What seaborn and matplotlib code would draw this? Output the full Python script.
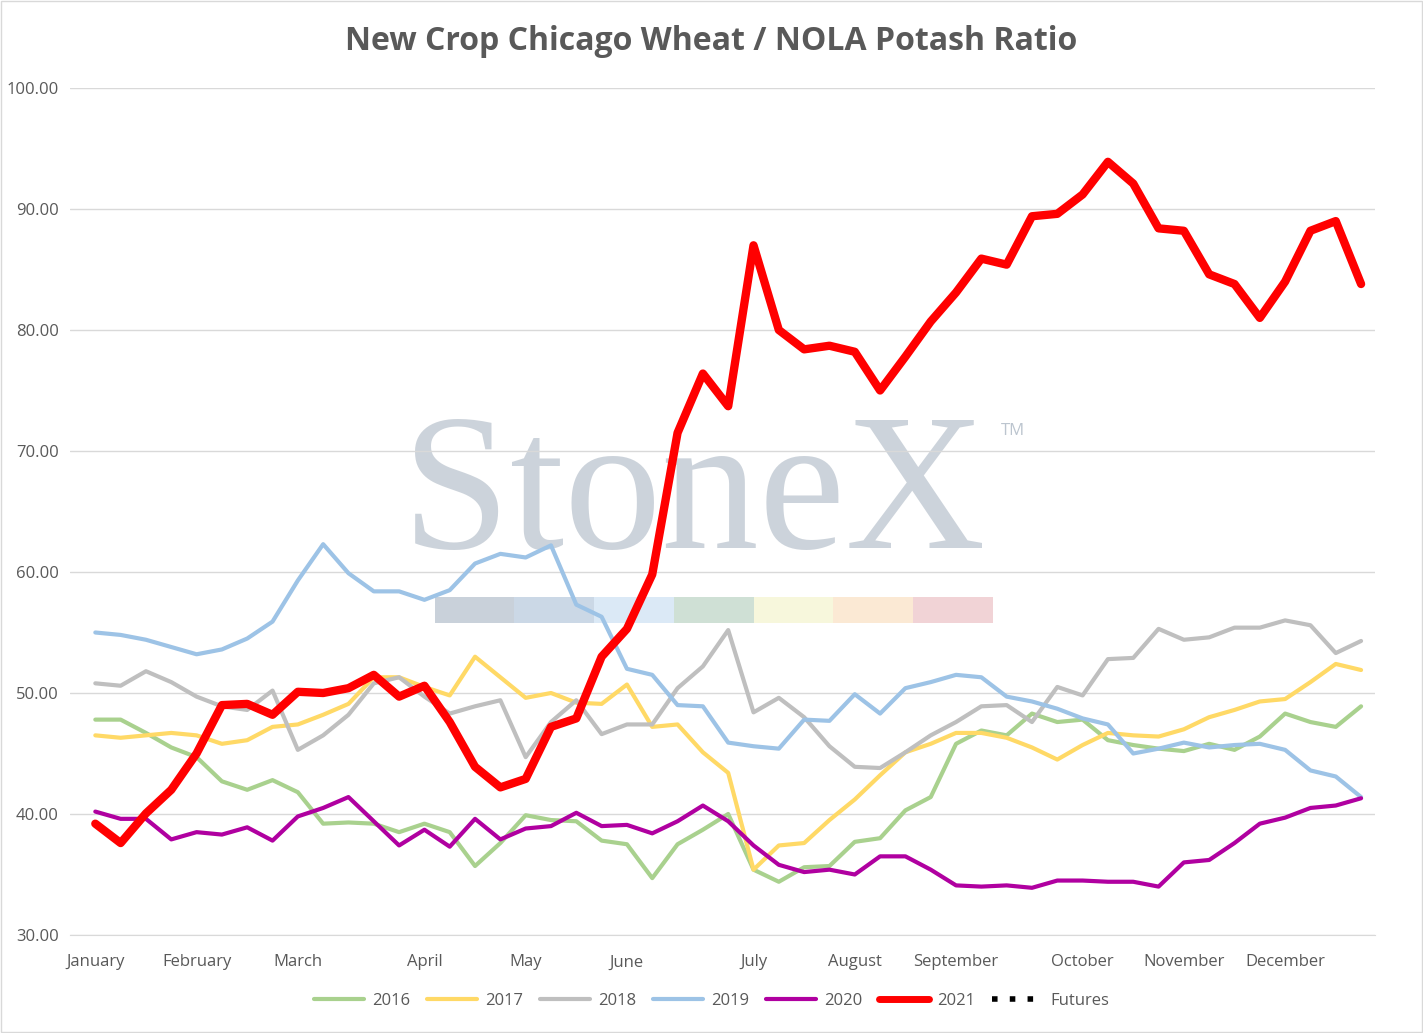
import matplotlib
matplotlib.use("Agg")
import matplotlib.pyplot as plt
import matplotlib.lines as mlines
import pandas as pd
import seaborn as sns

# weekly ratio values, 51 points per season
y2016 = [47.8, 47.8, 46.7, 45.5, 44.7, 42.7, 42.0, 42.8, 41.8, 39.2, 39.3, 39.2, 38.5, 39.2, 38.5, 35.7, 37.6,
         39.9, 39.5, 39.4, 37.8, 37.5, 34.7, 37.5, 38.7, 40.0, 35.4, 34.4, 35.6, 35.7, 37.7, 38.0, 40.3, 41.4,
         45.8, 46.9, 46.5, 48.3, 47.6, 47.8, 46.1, 45.7, 45.4, 45.2, 45.8, 45.3, 46.4, 48.3, 47.6, 47.2, 48.9]
y2017 = [46.5, 46.3, 46.5, 46.7, 46.5, 45.8, 46.1, 47.2, 47.4, 48.2, 49.1, 51.3, 51.3, 50.5, 49.8, 53.0, 51.3,
         49.6, 50.0, 49.2, 49.1, 50.7, 47.2, 47.4, 45.1, 43.4, 35.4, 37.4, 37.6, 39.5, 41.2, 43.2, 45.1, 45.8,
         46.7, 46.7, 46.3, 45.5, 44.5, 45.7, 46.7, 46.5, 46.4, 47.0, 48.0, 48.6, 49.3, 49.5, 50.9, 52.4, 51.9]
y2018 = [50.8, 50.6, 51.8, 50.9, 49.7, 48.9, 48.6, 50.2, 45.3, 46.5, 48.2, 50.8, 51.3, 49.7, 48.3, 48.9, 49.4,
         44.7, 47.6, 49.4, 46.6, 47.4, 47.4, 50.4, 52.2, 55.2, 48.4, 49.6, 48.0, 45.6, 43.9, 43.8, 45.1, 46.5,
         47.6, 48.9, 49.0, 47.6, 50.5, 49.8, 52.8, 52.9, 55.3, 54.4, 54.6, 55.4, 55.4, 56.0, 55.6, 53.3, 54.3]
y2019 = [55.0, 54.8, 54.4, 53.8, 53.2, 53.6, 54.5, 55.9, 59.3, 62.3, 59.9, 58.4, 58.4, 57.7, 58.5, 60.7, 61.5,
         61.2, 62.2, 57.3, 56.3, 52.0, 51.5, 49.0, 48.9, 45.9, 45.6, 45.4, 47.8, 47.7, 49.9, 48.3, 50.4, 50.9,
         51.5, 51.3, 49.7, 49.3, 48.7, 47.9, 47.4, 45.0, 45.4, 45.9, 45.5, 45.7, 45.8, 45.3, 43.6, 43.1, 41.4]
y2020 = [40.2, 39.6, 39.6, 37.9, 38.5, 38.3, 38.9, 37.8, 39.8, 40.5, 41.4, 39.4, 37.4, 38.7, 37.3, 39.6, 37.9,
         38.8, 39.0, 40.1, 39.0, 39.1, 38.4, 39.4, 40.7, 39.4, 37.4, 35.8, 35.2, 35.4, 35.0, 36.5, 36.5, 35.4,
         34.1, 34.0, 34.1, 33.9, 34.5, 34.5, 34.4, 34.4, 34.0, 36.0, 36.2, 37.6, 39.2, 39.7, 40.5, 40.7, 41.3]
y2021 = [39.2, 37.6, 40.05, 42.0, 45.0, 49.0, 49.1, 48.2, 50.1, 50.0, 50.4, 51.5, 49.7, 50.6, 47.6, 43.9, 42.2,
         42.9, 47.2, 47.9, 53.0, 55.3, 59.8, 71.5, 76.4, 73.7, 87.0, 80.0, 78.4, 78.7, 78.2, 75.0, 77.8, 80.7,
         83.1, 85.9, 85.4, 89.4, 89.6, 91.2, 93.9, 92.1, 88.4, 88.2, 84.6, 83.8, 81.0, 84.0, 88.2, 89.0, 83.8]

months = ["January", "February", "March", "April", "May", "June", "July",
          "August", "September", "October", "November", "December"]
month_weeks = [0, 4, 8, 13, 17, 21, 26, 30, 34, 39, 43, 47]

series = {"2016": y2016, "2017": y2017, "2018": y2018, "2019": y2019, "2020": y2020, "2021": y2021}
colors = {"2016": "#a9d18e", "2017": "#ffd966", "2018": "#bfbfbf", "2019": "#9dc3e6",
          "2020": "#b000a0", "2021": "#ff0000"}
widths = {"2016": 3, "2017": 3, "2018": 3, "2019": 3, "2020": 3, "2021": 6}

rows = []
for year, vals in series.items():
    for i, v in enumerate(vals):
        rows.append({"Year": year, "Week": i, "Ratio": v})
df = pd.DataFrame(rows)

sns.set_style("white")
plt.rcParams["font.family"] = ["Open Sans", "DejaVu Sans"]

fig = plt.figure(figsize=(14.23, 10.33), dpi=100)
ax = fig.add_axes([70 / 1423, 1 - 935 / 1033, (1375 - 70) / 1423, (935 - 88) / 1033])

# watermark
ax.text(0.478, 0.512, "StoneX", transform=ax.transAxes, ha="center", va="center",
        fontsize=140, family="Liberation Serif", color="#bcc5cf", alpha=0.75, zorder=0)
ax.text(0.713, 0.59, "TM", transform=ax.transAxes, fontsize=12, color="#bcc5cf", zorder=0)
band = ["#c9d1da", "#cbd8e6", "#dbe9f6", "#cfe0d5", "#f7f7dc", "#fbe9d4", "#f1d3d6"]
for k, c in enumerate(band):
    ax.axvspan(13.4 + k * 3.15, 13.4 + (k + 1) * 3.15, ymin=(55.8 - 30) / 70, ymax=(57.9 - 30) / 70,
               color=c, lw=0, zorder=0)

for year in series:
    sub = df[df["Year"] == year]
    sns.lineplot(data=sub, x="Week", y="Ratio", color=colors[year], linewidth=widths[year],
                 ax=ax, legend=False, zorder=3 if year == "2021" else 2)

ax.set_xlim(-1.0, 50.55)
ax.set_ylim(30, 100)
ax.set_yticks(range(30, 101, 10))
ax.set_yticklabels([f"{v:.2f}" for v in range(30, 101, 10)], color="#595959", fontsize=12)
ax.set_xticks(month_weeks)
ax.set_xticklabels(months, color="#595959", fontsize=12)
ax.tick_params(axis="x", length=0, pad=14)
ax.tick_params(axis="y", length=0, pad=8)
ax.set_xlabel("")
ax.set_ylabel("")
ax.grid(axis="y", color="#d9d9d9", linewidth=1)
for s in ["left", "right", "top"]:
    ax.spines[s].set_visible(False)
ax.spines["bottom"].set_color("#d9d9d9")

fig.text(0.5, 1 - 42 / 1033, "New Crop Chicago Wheat / NOLA Potash Ratio", ha="center", va="center",
         fontsize=23, fontweight="bold", color="#595959")

handles = [mlines.Line2D([], [], color=colors[y], linewidth=3 if y != "2021" else 5, label=y) for y in series]
handles.append(mlines.Line2D([], [], color="black", linewidth=4, linestyle=(0, (1, 2.2)), label="Futures"))
fig.legend(handles=handles, loc="center", bbox_to_anchor=(0.5, 1 - 1001 / 1033), ncol=7, frameon=False,
           fontsize=12, handlelength=3.0, handletextpad=0.5, columnspacing=1.0, labelcolor="#595959")

fig.patches.append(plt.Rectangle((0.001, 0.001), 0.998, 0.998, transform=fig.transFigure,
                                 fill=False, edgecolor="#d9d9d9", linewidth=1))
fig.savefig("out.png", dpi=100)
